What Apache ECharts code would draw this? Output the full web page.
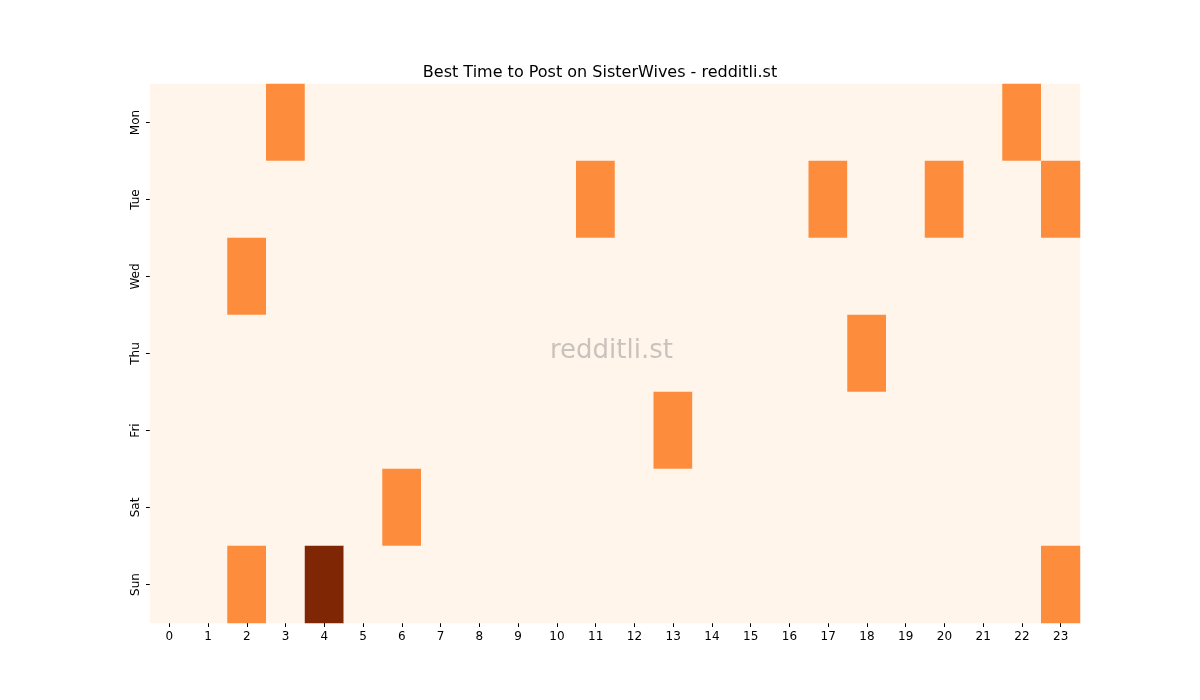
<!DOCTYPE html>
<html><head><meta charset="utf-8">
<script src="https://cdn.jsdelivr.net/npm/echarts@6/dist/echarts.min.js"></script>
<style>html,body{margin:0;padding:0;background:#fff}#c{width:1200px;height:700px}</style>
</head><body><div id="c"></div>
<script>
const hours = ['0','1','2','3','4','5','6','7','8','9','10','11','12','13','14','15','16','17','18','19','20','21','22','23'];
const days = ['Mon','Tue','Wed','Thu','Fri','Sat','Sun'];
const monHot = [3, 22];
const tueHot = [11, 17, 20, 23];
const wedHot = [2];
const thuHot = [18];
const friHot = [13];
const satHot = [6];
const sunHot = [2, 23];
const sunPeak = [4];
const hotByDay = [monHot, tueHot, wedHot, thuHot, friHot, satHot, sunHot];
const data = [];
days.forEach((d, di) => {
  hours.forEach((h, hi) => {
    let v = 0;
    if (hotByDay[di].includes(hi)) v = 1;
    if (di === 6 && sunPeak.includes(hi)) v = 2;
    data.push([hi, di, v]);
  });
});
const chart = echarts.init(document.getElementById('c'));
chart.setOption({
  animation: false,
  title: {text: 'Best Time to Post on SisterWives - redditli.st', left: 'center', top: 60,
    textStyle: {fontFamily: 'DejaVu Sans', fontSize: 16, fontWeight: 'normal', color: '#000'}},
  grid: {left: 150, right: 120, top: 84, bottom: 77},
  xAxis: {type: 'category', data: hours, axisLine: {show: false},
    axisTick: {show: true, alignWithLabel: true, lineStyle: {color: '#000'}, length: 4},
    axisLabel: {color: '#000', fontFamily: 'DejaVu Sans', fontSize: 12}, splitLine: {show: false}},
  yAxis: {type: 'category', data: days, inverse: true, axisLine: {show: false},
    axisTick: {show: true, alignWithLabel: true, lineStyle: {color: '#000'}, length: 4},
    axisLabel: {color: '#000', fontFamily: 'DejaVu Sans', fontSize: 12, rotate: 90}, splitLine: {show: false}},
  visualMap: {show: false, min: 0, max: 2, dimension: 2,
    inRange: {color: ['#fff5eb', '#fd8d3c', '#7f2704']}},
  series: [{type: 'heatmap', data: data, itemStyle: {borderWidth: 0}}],
  graphic: [{type: 'text', left: 550, top: 338, z: 100,
    style: {text: 'redditli.st', fontSize: 26, fontFamily: 'DejaVu Sans', fill: 'rgba(120,120,120,0.4)'}}]
});
</script></body></html>
